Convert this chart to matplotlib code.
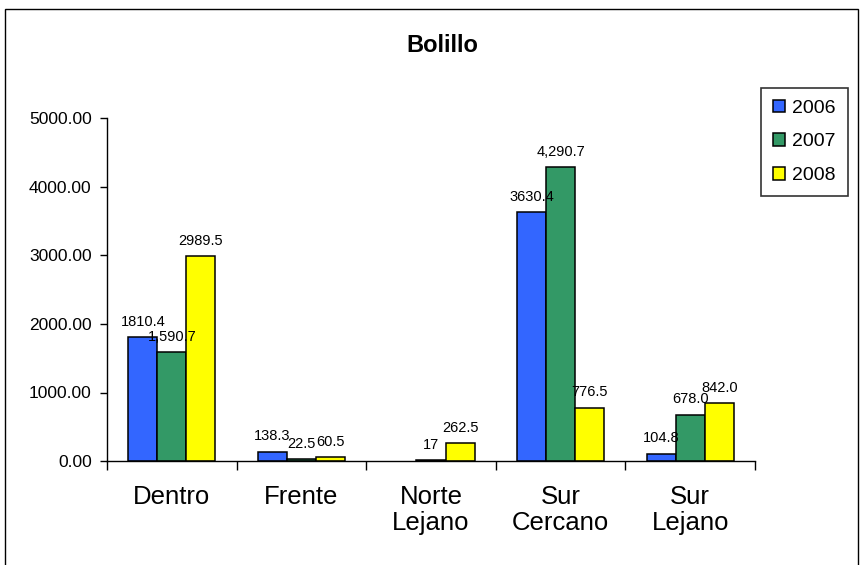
import matplotlib.pyplot as plt
from matplotlib.patches import Rectangle
import numpy as np

plt.rcParams['font.family'] = ['Liberation Sans', 'DejaVu Sans']

categories = ['Dentro', 'Frente', 'Norte\nLejano', 'Sur\nCercano', 'Sur\nLejano']
years = ['2006', '2007', '2008']
v2006 = [1810.4, 138.3, np.nan, 3630.4, 104.8]
v2007 = [1590.7, 22.5, 17, 4290.7, 678.0]
v2008 = [2989.5, 60.5, 262.5, 776.5, 842.0]
lbl2006 = ['1810.4', '138.3', '', '3630.4', '104.8']
lbl2007 = ['1,590.7', '22.5', '17', '4,290.7', '678.0']
lbl2008 = ['2989.5', '60.5', '262.5', '776.5', '842.0']
colors = ['#3366ff', '#339966', '#ffff00']

W, H = 862, 565
fig = plt.figure(figsize=(W / 100, H / 100), dpi=100)
# chart area border (bottom edge falls outside the picture)
fig.patches.append(Rectangle((5 / W, -0.01), 853 / W, 1 - 9 / H + 0.01,
                             transform=fig.transFigure, fill=False,
                             edgecolor='black', linewidth=1))
ax = fig.add_axes([107 / W, 104 / H, 648 / W, 342.5 / H])

x = np.arange(len(categories))
w = 0.224
series = [v2006, v2007, v2008]
labels = [lbl2006, lbl2007, lbl2008]
for i in range(3):
    pos = x + (i - 1) * w
    vals = np.array(series[i], dtype=float)
    ok = ~np.isnan(vals)
    ax.bar(pos[ok], vals[ok], w, color=colors[i], edgecolor='black',
           linewidth=1.1, label=years[i])
    for p, v, t in zip(pos, vals, labels[i]):
        if t:
            ax.annotate(t, (p, v), xytext=(0, 6), textcoords='offset points',
                        ha='center', va='bottom', fontsize=10.5)

ax.set_xlim(-0.5, len(categories) - 0.5)
ax.set_ylim(0, 5000)
yt = np.arange(0, 5001, 1000)
ax.set_yticks(yt)
ax.set_yticklabels(['%.2f' % v for v in yt], fontsize=12.5)
ax.set_xticks(x)
ax.set_xticklabels(categories, fontsize=18.5, linespacing=1.15, va='top')
ax.tick_params(axis='x', which='major', length=0, pad=17)
ax.set_xticks(np.arange(-0.5, len(categories)), minor=True)
ax.tick_params(axis='x', which='minor', length=6.5, width=1)
ax.tick_params(axis='y', length=5, width=1, pad=6)
for s in ['top', 'right']:
    ax.spines[s].set_visible(False)
for s in ['left', 'bottom']:
    ax.spines[s].set_linewidth(1)

fig.text(442 / W, 1 - 45 / H, 'Bolillo', ha='center', va='center',
         fontsize=17, fontweight='bold')
leg = fig.legend(loc='upper left', bbox_to_anchor=(761 / W, 1 - 88 / H),
                 bbox_transform=fig.transFigure, fontsize=14,
                 frameon=True, fancybox=False, edgecolor='black',
                 handlelength=0.62, handleheight=0.62, handletextpad=0.4,
                 labelspacing=0.85, borderpad=0.6, borderaxespad=0)
leg.get_frame().set_linewidth(1.2)

fig.savefig('out.png', dpi=100)
